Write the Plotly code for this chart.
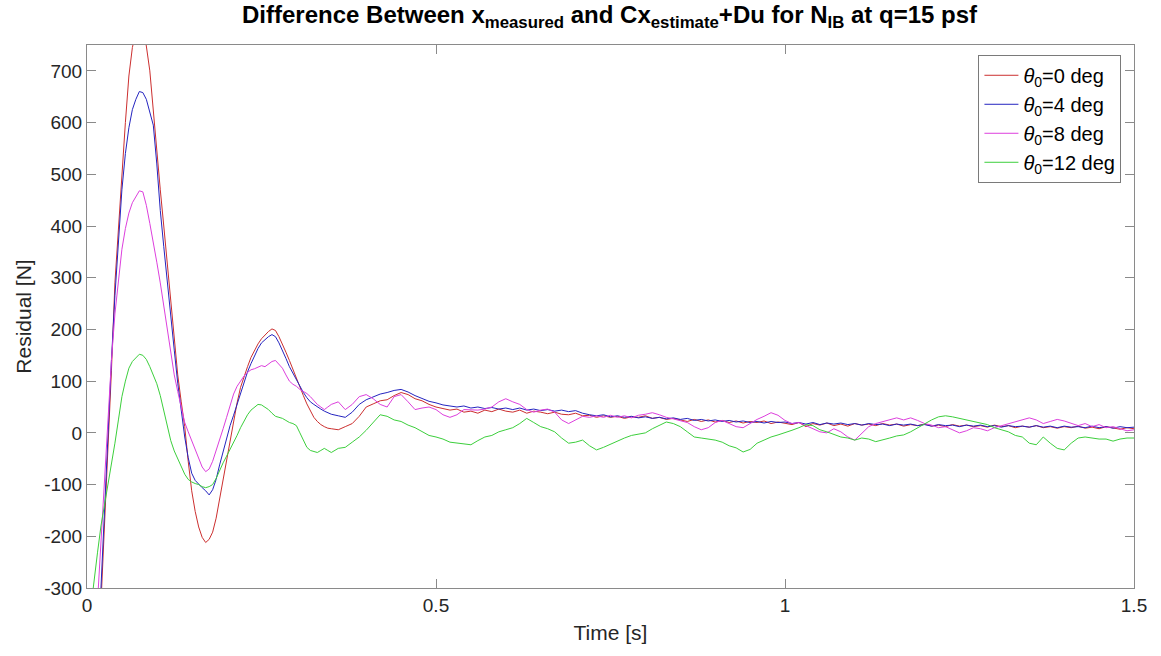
import plotly.graph_objects as go

# ---- sample times -------------------------------------------------------
time_early = [
    0.000, 0.005, 0.010, 0.015, 0.020, 0.025, 0.030, 0.035, 0.040, 0.045,
    0.050, 0.055, 0.060, 0.065, 0.070, 0.075, 0.080, 0.085, 0.090, 0.095,
    0.100, 0.105, 0.110, 0.115, 0.120, 0.125, 0.130, 0.135, 0.140, 0.145,
    0.150, 0.155, 0.160, 0.165, 0.170, 0.175, 0.180, 0.185, 0.190, 0.195,
    0.200, 0.205, 0.210, 0.215, 0.220, 0.225, 0.230, 0.235, 0.240, 0.245,
    0.250, 0.255, 0.260, 0.265, 0.270, 0.275, 0.280, 0.285, 0.290, 0.295,
    0.300, 0.305, 0.310, 0.315, 0.320, 0.325, 0.330, 0.335, 0.340, 0.345,
]
time_late = [
    0.35, 0.36, 0.37, 0.38, 0.39,
    0.40, 0.41, 0.42, 0.43, 0.44, 0.45, 0.46, 0.47, 0.48, 0.49,
    0.50, 0.51, 0.52, 0.53, 0.54, 0.55, 0.56, 0.57, 0.58, 0.59,
    0.60, 0.61, 0.62, 0.63, 0.64, 0.65, 0.66, 0.67, 0.68, 0.69,
    0.70, 0.71, 0.72, 0.73, 0.74, 0.75, 0.76, 0.77, 0.78, 0.79,
    0.80, 0.81, 0.82, 0.83, 0.84, 0.85, 0.86, 0.87, 0.88, 0.89,
    0.90, 0.91, 0.92, 0.93, 0.94, 0.95, 0.96, 0.97, 0.98, 0.99,
    1.00, 1.01, 1.02, 1.03, 1.04, 1.05, 1.06, 1.07, 1.08, 1.09,
    1.10, 1.11, 1.12, 1.13, 1.14, 1.15, 1.16, 1.17, 1.18, 1.19,
    1.20, 1.21, 1.22, 1.23, 1.24, 1.25, 1.26, 1.27, 1.28, 1.29,
    1.30, 1.31, 1.32, 1.33, 1.34, 1.35, 1.36, 1.37, 1.38, 1.39,
    1.40, 1.41, 1.42, 1.43, 1.44, 1.45, 1.46, 1.47, 1.48, 1.49,
    1.50,
]

# ---- residuals [N], theta0 = 0 deg ---------------------------------------
theta0_early = [
    -1000, -820, -650, -490, -330, -190, -45, 120, 290, 400,
    500, 600, 690, 745, 775, 788, 782, 748, 700, 620,
    545, 470, 400, 330, 262, 190, 112, 60, 12, -55,
    -112, -152, -182, -202, -212, -206, -192, -165, -128, -92,
    -55, -14, 25, 58, 88, 110, 128, 146, 160, 172,
    182, 190, 196, 201, 198, 186, 172, 156, 140, 122,
    104, 88, 72, 56, 42, 30, 22, 16, 12, 9,
]
theta0_late = [
    8, 6, 12, 18, 32,
    50, 56, 62, 64, 72, 78, 74, 66, 62, 55,
    50, 47, 44, 46, 40, 42, 38, 44, 41, 46,
    42, 40, 44, 38, 42, 40, 37, 40, 36, 35,
    38, 33, 34, 30, 33, 30, 32, 28, 31, 30,
    33, 28, 30, 26, 28, 25, 22, 26, 22, 25,
    21, 24, 20, 23, 19, 22, 20, 23, 18, 21,
    19, 16, 20, 12, 18, 15, 19, 14, 17, 13,
    18, 15, 17, 14, 18, 15, 17, 13, 16, 14,
    17, 13, 15, 12, 16, 13, 15, 12, 14, 11,
    15, 12, 14, 10, 13, 11, 14, 10, 12, 9,
    12, 10, 13, 9, 11, 8, 12, 9, 7, 10,
    8,
]

# ---- theta0 = 4 deg ------------------------------------------------------
theta4_early = [
    -900, -760, -620, -460, -300, -150, 0, 140, 265, 375,
    470, 540, 590, 625, 645, 660, 658, 645, 622, 595,
    520, 430, 360, 290, 222, 160, 96, 40, -8, -48,
    -78, -92, -100, -106, -112, -120, -110, -90, -62, -35,
    -8, 14, 34, 56, 78, 98, 118, 134, 150, 163,
    174, 181, 186, 190, 186, 174, 160, 144, 128, 115,
    102, 90, 78, 68, 60, 55, 50, 46, 42, 39,
]
theta4_late = [
    36, 33, 30, 40, 55,
    64, 70, 75, 78, 82, 84, 79, 72, 66, 61,
    58, 54, 52, 50, 52, 48, 50, 47, 49, 46,
    48, 45, 48, 44, 46, 43, 45, 42, 44, 41,
    43, 38, 35, 33, 35, 31, 33, 30, 32, 29,
    31, 28, 30, 27, 29, 26, 28, 24, 26, 23,
    25, 22, 24, 21, 23, 20, 22, 19, 22, 20,
    21, 18, 20, 17, 20, 16, 19, 17, 19, 16,
    18, 15, 18, 16, 17, 14, 17, 15, 17, 14,
    16, 13, 16, 14, 15, 12, 15, 13, 15, 12,
    14, 11, 14, 12, 13, 11, 14, 11, 13, 10,
    13, 11, 12, 10, 13, 10, 12, 9, 12, 10,
    11,
]

# ---- theta0 = 8 deg ------------------------------------------------------
theta8_early = [
    -680, -560, -440, -320, -200, -80, 40, 140, 230, 300,
    355, 395, 425, 445, 458, 468, 466, 440, 405, 370,
    330, 290, 245, 195, 148, 112, 80, 50, 20, 2,
    -15, -32, -50, -66, -75, -70, -55, -35, -15, 8,
    30, 55, 75, 90, 100, 110, 117, 122, 124, 127,
    130, 128, 133, 138, 140, 133, 125, 112, 100, 94,
    90, 84, 80, 76, 70, 62, 55, 50, 45, 50,
]
theta8_late = [
    55, 60, 45, 55, 70,
    74, 66, 55, 50, 70, 74, 60, 45, 48, 50,
    45, 35, 30, 35, 45, 45, 44, 46, 50, 60,
    66, 60, 55, 45, 40, 44, 46, 40, 25, 18,
    25, 32, 30, 33, 30, 34, 30, 33, 29, 34,
    36, 39, 35, 30, 27, 24, 20, 12, 6, 10,
    20, 24, 18, 12, 10, 18, 26, 32, 39, 34,
    24, 18, 20, 14, 8, 2, 0, 8, 2, -8,
    -14, 0, 12, 18, 22, 26, 29, 25, 29, 24,
    18, 15, 10, 12, 6, 0, 4, 10, 8, 4,
    10, 14, 18, 22, 26, 29, 25, 18, 22, 26,
    23, 18, 14, 18, 12, 16, 10, 12, 8, 4,
    6,
]

# ---- theta0 = 12 deg -----------------------------------------------------
theta12_early = [
    -400, -340, -285, -232, -180, -140, -100, -65, -20, 25,
    70, 100, 125, 138, 145, 152, 150, 142, 128, 112,
    95, 72, 45, 15, -15, -35, -50, -66, -80, -90,
    -95, -98, -100, -104, -106, -104, -100, -88, -72, -58,
    -45, -32, -20, -5, 10, 22, 35, 44, 50, 55,
    54, 50, 45, 38, 32, 30, 28, 24, 20, 18,
    14, 0, -15, -28, -34, -36, -38, -34, -30, -34,
]
theta12_late = [
    -38, -30, -28, -18, -8,
    5, 20, 35, 32, 25, 22, 15, 10, 2, -5,
    -8, -12, -18, -20, -22, -23, -15, -8, -5, 2,
    6, 10, 18, 28, 20, 12, 8, 2, -10, -20,
    -18, -14, -25, -33, -28, -22, -15, -10, -5, -2,
    0, 8, 15, 21, 18, 12, 2, -8, -10, -12,
    -14, -18, -25, -29, -37, -32, -20, -14, -8, -4,
    0, 5, 10, 16, 14, 6, 2, -3, -8, -10,
    -14, -10, -12, -17, -14, -10, -6, -4, 2, 10,
    18, 25, 31, 33, 31, 28, 25, 22, 18, 16,
    10, 6, 2, -5, -8, -20, -23, -8, -20, -30,
    -33, -20, -10, -8, -10, -12, -12, -16, -12, -10,
    -10,
]

series_names = [
    "<i>θ</i><sub>0</sub>=0 deg",
    "<i>θ</i><sub>0</sub>=4 deg",
    "<i>θ</i><sub>0</sub>=8 deg",
    "<i>θ</i><sub>0</sub>=12 deg",
]
series_values = [
    theta0_early + theta0_late,
    theta4_early + theta4_late,
    theta8_early + theta8_late,
    theta12_early + theta12_late,
]
series_colors = ["#cc2f2f", "#2424c0", "#dd3fdd", "#3ccf3c"]

x_ticks = [0, 0.5, 1, 1.5]
x_tick_labels = ["0", "0.5", "1", "1.5"]
y_ticks = [-300, -200, -100, 0, 100, 200, 300, 400, 500, 600, 700]
y_tick_labels = ["-300", "-200", "-100", "0", "100", "200", "300", "400", "500", "600", "700"]

FONT = "Liberation Sans, Arial, Helvetica, sans-serif"
time_s = time_early + time_late

fig = go.Figure()
for name, vals, col in zip(series_names, series_values, series_colors):
    fig.add_trace(go.Scatter(
        x=time_s, y=vals, mode="lines", name=name,
        line=dict(color=col, width=1),
    ))

axis_common = dict(
    showgrid=False, zeroline=False, showline=True, linecolor="#8a8a8a",
    linewidth=1, mirror="ticks", ticks="inside", ticklen=9, tickcolor="#8a8a8a",
    tickfont=dict(family=FONT, size=19, color="#262626"),
)

fig.update_layout(
    width=1161, height=656,
    paper_bgcolor="white", plot_bgcolor="white",
    margin=dict(l=87, r=27, t=45, b=68),
    title=dict(
        text="<b>Difference Between x<sub>measured</sub> and Cx<sub>estimate</sub>+Du for N<sub>IB</sub> at q=15 psf</b>",
        x=0.525, xanchor="center", y=0.99, yanchor="top",
        font=dict(family=FONT, size=24, color="black"),
    ),
    xaxis=dict(
        range=[0, 1.5], tickvals=x_ticks, ticktext=x_tick_labels,
        title=dict(text="Time [s]", font=dict(family=FONT, size=21, color="#262626"), standoff=10),
        **axis_common,
    ),
    yaxis=dict(
        range=[-300, 750], tickvals=y_ticks, ticktext=y_tick_labels,
        title=dict(text="Residual [N]", font=dict(family=FONT, size=21, color="#262626"), standoff=6),
        **axis_common,
    ),
    legend=dict(
        x=0.988, y=0.982, xanchor="right", yanchor="top",
        bgcolor="white", bordercolor="#7a7a7a", borderwidth=1,
        font=dict(family=FONT, size=20, color="black"),
        tracegroupgap=0, itemwidth=34,
    ),
    showlegend=True,
)

fig.write_html("out.html")
